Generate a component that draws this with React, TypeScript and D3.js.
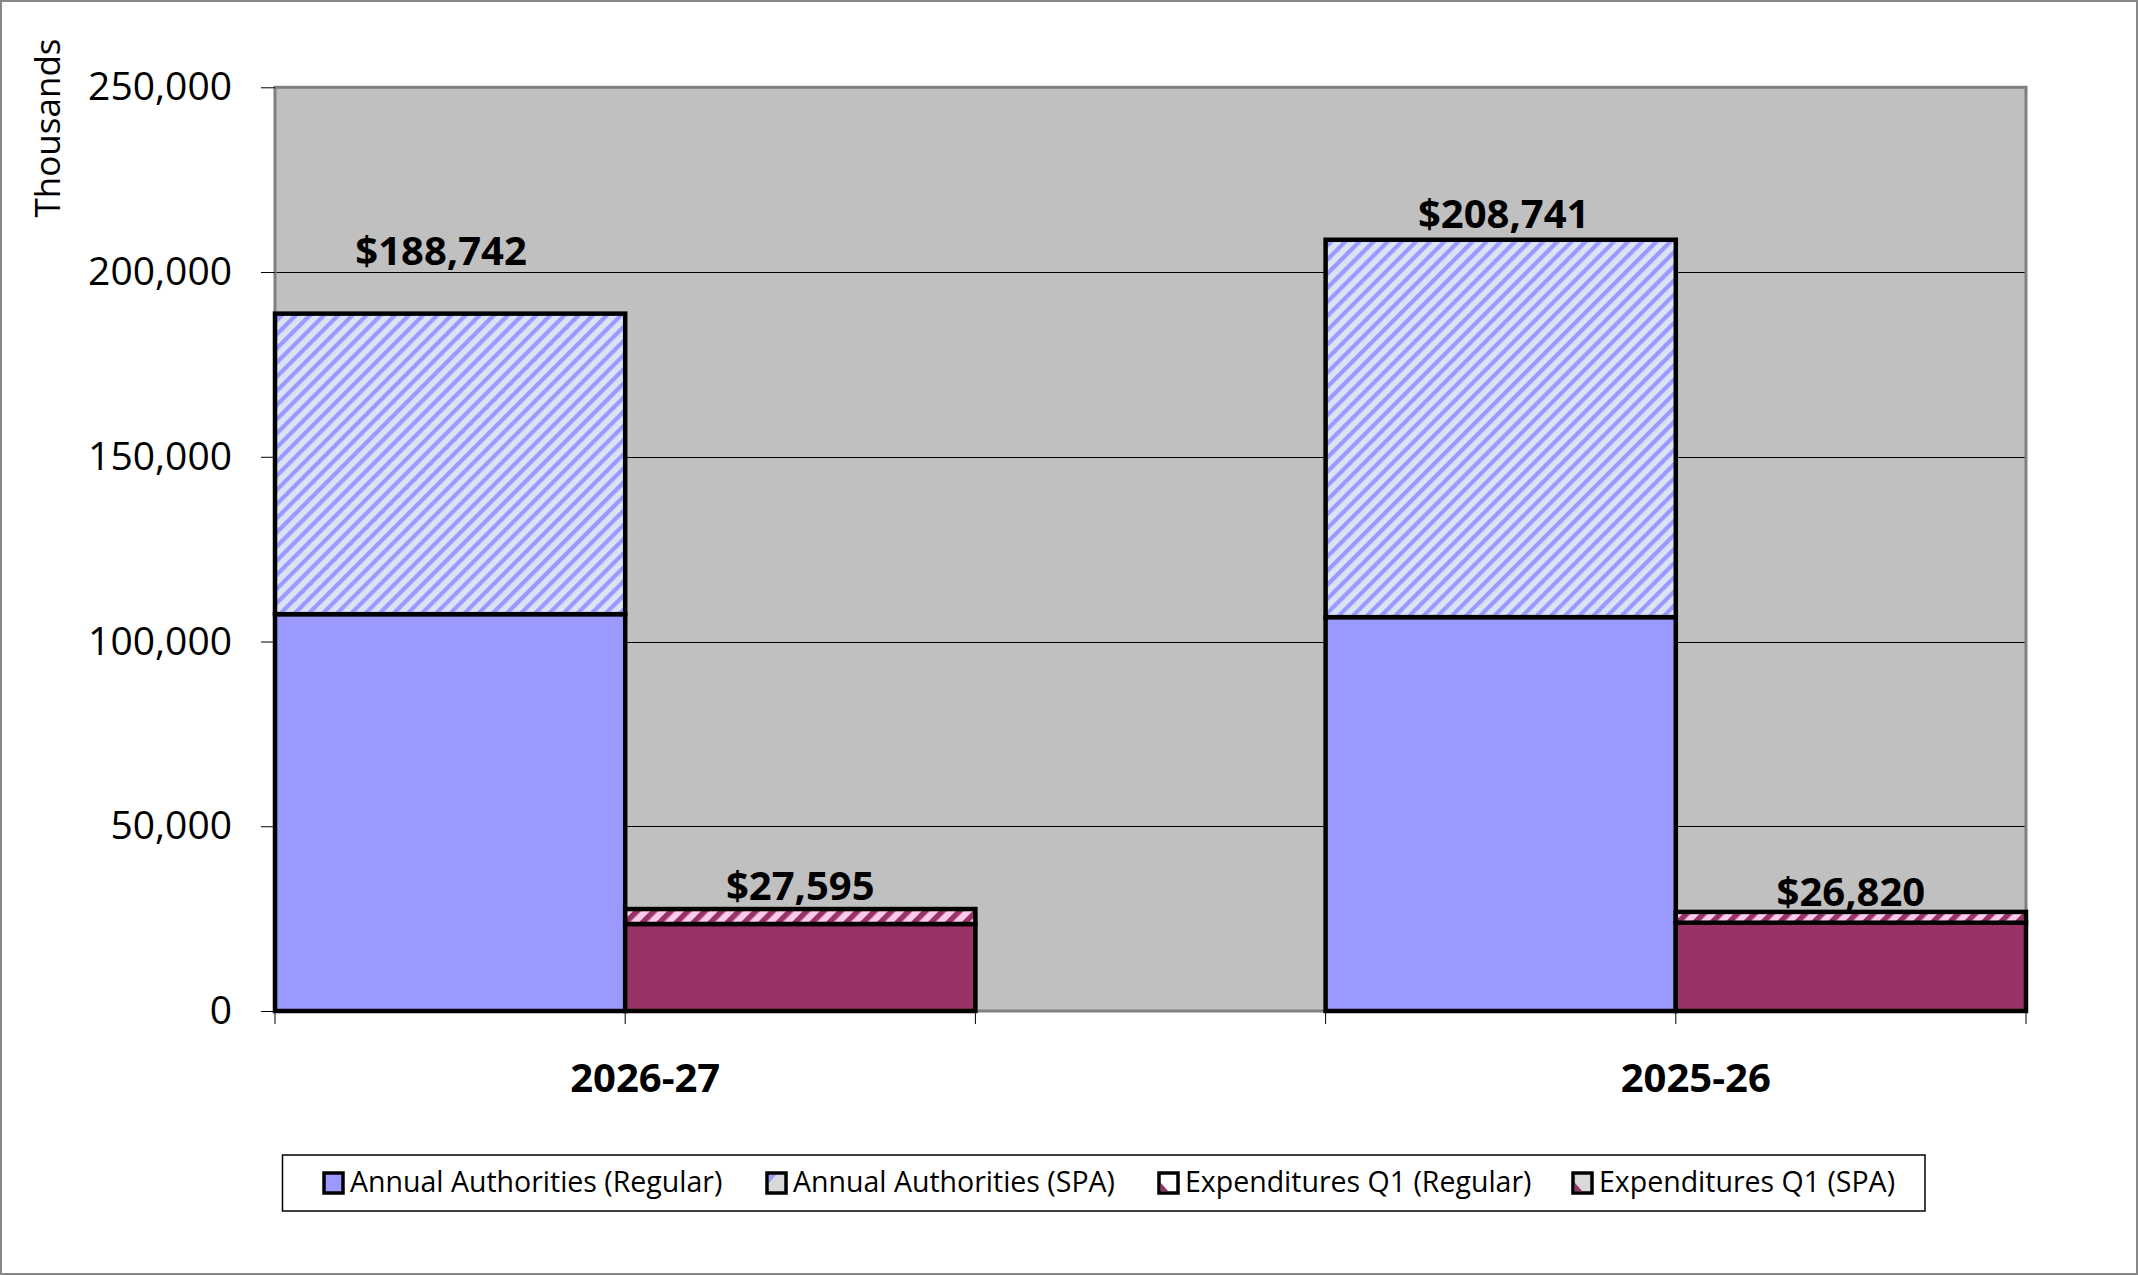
import React, { useEffect, useRef } from 'react';
import * as d3 from 'd3';

// values (thousands of dollars)
const categories = ['2026-27', '2025-26'];
const authRegular = [107400, 106600];
const authSpa = [81342, 102141];
const expRegular = [23550, 23900];
const expSpa = [4045, 2920];
const yTicks = [0, 50000, 100000, 150000, 200000, 250000];
const legendLabels = [
  'Annual Authorities (Regular)',
  'Annual Authorities (SPA)',
  'Expenditures Q1 (Regular)',
  'Expenditures Q1 (SPA)',
];

const W = 2138;
const H = 1275;
const FONT = '"Open Sans", "DejaVu Sans", sans-serif';

const LAVENDER = '#9999FF';
const LAV_LIGHT = '#DAE2F4';
const MAROON = '#993366';
const PINK = '#FACCEA';

const App: React.FC = () => {
  const svgRef = useRef<SVGSVGElement>(null);

  useEffect(() => {
    if (!svgRef.current) return;
    const svg = d3.select(svgRef.current);
    svg.selectAll('*').remove();

    const left = 275, right = 2026, top = 87.3, bottom = 1011;

    // hatch patterns
    const defs = svg.append('defs');
    const hatch = (id: string, size: number, stripe: number, bg: string, fg: string) => {
      const p = defs.append('pattern')
        .attr('id', id)
        .attr('patternUnits', 'userSpaceOnUse')
        .attr('width', size)
        .attr('height', size)
        .attr('patternTransform', 'rotate(45)');
      p.append('rect').attr('width', size).attr('height', size).attr('fill', bg);
      p.append('rect').attr('width', stripe).attr('height', size).attr('fill', fg);
    };
    hatch('authHatch', 10, 4.2, LAV_LIGHT, LAVENDER);
    hatch('expHatch', 12, 5.5, PINK, MAROON);

    // outer chart border
    svg.append('rect')
      .attr('x', 1).attr('y', 1)
      .attr('width', W - 2).attr('height', H - 2)
      .attr('fill', '#fff')
      .attr('stroke', '#888')
      .attr('stroke-width', 2);

    const slots = categories.flatMap((c, i) =>
      i < categories.length - 1 ? [`${c}|auth`, `${c}|exp`, `${c}|gap`] : [`${c}|auth`, `${c}|exp`]);

    const x = d3.scaleBand<string>().domain(slots).range([left, right]).padding(0);
    const y = d3.scaleLinear().domain([0, 250000]).range([bottom, top]);

    // plot background
    svg.append('rect')
      .attr('x', left).attr('y', top)
      .attr('width', right - left).attr('height', bottom - top)
      .attr('fill', '#C0C0C0');

    // gridlines
    svg.append('g')
      .selectAll('line')
      .data(yTicks.filter(t => t > 0 && t < 250000))
      .enter()
      .append('line')
      .attr('x1', left).attr('x2', right)
      .attr('y1', d => Math.round(y(d)) + 0.5).attr('y2', d => Math.round(y(d)) + 0.5)
      .attr('stroke', '#000')
      .attr('stroke-width', 1);

    // plot border
    svg.append('rect')
      .attr('x', left).attr('y', top)
      .attr('width', right - left).attr('height', bottom - top)
      .attr('fill', 'none')
      .attr('stroke', '#808080')
      .attr('stroke-width', 3);

    // stacked segments
    type Seg = { slot: string; y0: number; y1: number; fill: string };
    const segs: Seg[] = [];
    categories.forEach((c, i) => {
      segs.push({ slot: `${c}|auth`, y0: 0, y1: authRegular[i], fill: LAVENDER });
      segs.push({ slot: `${c}|auth`, y0: authRegular[i], y1: authRegular[i] + authSpa[i], fill: 'url(#authHatch)' });
      segs.push({ slot: `${c}|exp`, y0: 0, y1: expRegular[i], fill: MAROON });
      segs.push({ slot: `${c}|exp`, y0: expRegular[i], y1: expRegular[i] + expSpa[i], fill: 'url(#expHatch)' });
    });

    svg.append('g')
      .selectAll('rect')
      .data(segs)
      .enter()
      .append('rect')
      .attr('x', d => x(d.slot)!)
      .attr('y', d => y(d.y1))
      .attr('width', x.bandwidth())
      .attr('height', d => y(d.y0) - y(d.y1))
      .attr('fill', d => d.fill)
      .attr('stroke', '#000')
      .attr('stroke-width', 4.5);

    // y axis
    const yAxis = svg.append('g')
      .attr('transform', `translate(${left},0)`)
      .call(d3.axisLeft(y).tickValues(yTicks).tickSize(14).tickPadding(29).tickFormat(d3.format(',')));
    yAxis.select('.domain').remove();
    yAxis.selectAll('line').attr('stroke', '#000');
    yAxis.selectAll('text')
      .attr('font-family', FONT)
      .attr('font-size', 39)
      .attr('fill', '#000');

    svg.append('text')
      .attr('transform', 'translate(60,128) rotate(-90)')
      .attr('text-anchor', 'middle')
      .attr('font-family', FONT)
      .attr('font-size', 35)
      .attr('fill', '#000')
      .text('Thousands');

    // x tick marks at slot edges
    const edges = [...slots.map(s => x(s)!), right];
    svg.append('g')
      .selectAll('line')
      .data(edges)
      .enter()
      .append('line')
      .attr('x1', d => d).attr('x2', d => d)
      .attr('y1', bottom).attr('y2', bottom + 13)
      .attr('stroke', '#000')
      .attr('stroke-width', 1);

    // category labels
    svg.append('g')
      .selectAll('text')
      .data(categories)
      .enter()
      .append('text')
      .attr('x', d => x(`${d}|exp`)! + 20)
      .attr('y', 1092)
      .attr('text-anchor', 'middle')
      .attr('font-family', FONT)
      .attr('font-weight', 'bold')
      .attr('font-size', 40)
      .attr('fill', '#000')
      .text(d => d);

    // total labels
    const fmt = d3.format(',');
    const authLift = [49, 12];
    const authDx = [-9, 3];
    const expLift = [9, 6];
    const labels: { x: number; y: number; t: string }[] = [];
    categories.forEach((c, i) => {
      const at = authRegular[i] + authSpa[i];
      const et = expRegular[i] + expSpa[i];
      labels.push({ x: x(`${c}|auth`)! + x.bandwidth() / 2 + authDx[i], y: y(at) - authLift[i], t: `$${fmt(at)}` });
      labels.push({ x: x(`${c}|exp`)! + x.bandwidth() / 2, y: y(et) - expLift[i], t: `$${fmt(et)}` });
    });
    svg.append('g')
      .selectAll('text')
      .data(labels)
      .enter()
      .append('text')
      .attr('x', d => d.x)
      .attr('y', d => d.y)
      .attr('text-anchor', 'middle')
      .attr('font-family', FONT)
      .attr('font-weight', 'bold')
      .attr('font-size', 40)
      .attr('fill', '#000')
      .text(d => d.t);

    // legend
    const lg = svg.append('g');
    lg.append('rect')
      .attr('x', 282.5).attr('y', 1155)
      .attr('width', 1642.5).attr('height', 56)
      .attr('fill', '#fff')
      .attr('stroke', '#000')
      .attr('stroke-width', 1.5);

    const iconX = [324, 767, 1159, 1573];
    const iconBg = [LAVENDER, '#D9D9D9', '#fff', '#D9D9D9'];
    const iconCorner = [null, LAVENDER, MAROON, MAROON];
    const cornerTop = [false, true, false, false];
    legendLabels.forEach((lab, i) => {
      const ix = iconX[i];
      const g = lg.append('g');
      g.append('rect')
        .attr('x', ix).attr('y', 1173)
        .attr('width', 19).attr('height', 20)
        .attr('fill', iconBg[i])
        .attr('stroke', '#000')
        .attr('stroke-width', 3.5);
      if (iconCorner[i]) {
        const pts = cornerTop[i]
          ? [[ix + 2, 1175], [ix + 9, 1175], [ix + 2, 1183]]
          : [[ix + 2, 1191], [ix + 9, 1191], [ix + 2, 1183]];
        g.append('path')
          .attr('d', d3.line()(pts as [number, number][]) + 'Z')
          .attr('fill', iconCorner[i]!);
      }
      g.append('text')
        .attr('x', ix + 26)
        .attr('y', 1192)
        .attr('font-family', FONT)
        .attr('font-size', 28.5)
        .attr('fill', '#000')
        .text(lab);
    });
  }, []);

  return (
    <svg
      ref={svgRef}
      width={W}
      height={H}
      style={{ position: 'absolute', left: 0, top: 0, display: 'block' }}
    />
  );
};

export default App;
